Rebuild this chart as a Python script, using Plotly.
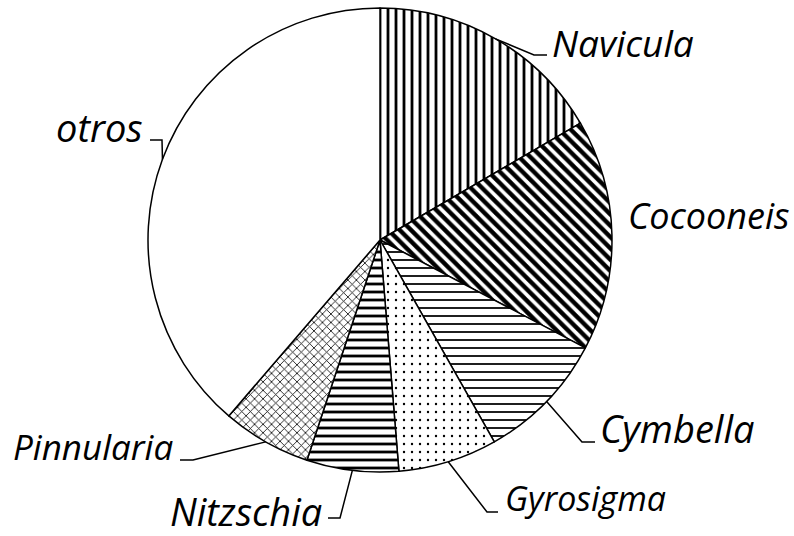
import math
import plotly.graph_objects as go

# ---- data ----
genera = ["Navicula", "Cocooneis", "Cymbella", "Gyrosigma", "Nitzschia", "Pinnularia", "otros"]
percent = [16.6, 16.1, 9.1, 6.9, 6.4, 6.2, 38.7]

# ---- style ----
W, H = 794, 536
CX, CY, R = 380, 240, 232  # pixel centre / radius of the pie
patterns = ["|", "\\", "-", ".", "-", "x", ""]
pat_size = [8, 8, 8, 8, 8, 6, 8]
pat_sol = [0.35, 0.55, 0.22, 0.07, 0.35, 0.25, 0.2]

# label placement: (text x, text y-mid, anchor, font size, leader elbow (x,y), leader end (x,y))
label_style = {
    "Navicula":   dict(x=550, y=42,  xa="left",  size=37, elbow=(534, 55),  end=(547, 55)),
    "Cocooneis":  dict(x=626, y=215, xa="left",  size=36, elbow=None, end=None),
    "Cymbella":   dict(x=598, y=428, xa="left",  size=38, elbow=(582, 442), end=(595, 442)),
    "Gyrosigma":  dict(x=503, y=498, xa="left",  size=34, elbow=(487, 512), end=(498, 512)),
    "Nitzschia":  dict(x=324, y=511, xa="right", size=38, elbow=(340, 518), end=(328, 518)),
    "Pinnularia": dict(x=175, y=446, xa="right", size=35, elbow=(193, 460), end=(180, 460)),
    "otros":      dict(x=145, y=127, xa="right", size=38, elbow=(162, 140), end=(150, 140)),
}

def px(x):
    return x / W

def py(y):
    return 1 - y / H

fig = go.Figure()
fig.add_trace(go.Pie(
    labels=genera,
    values=percent,
    sort=False,
    direction="clockwise",
    rotation=0,
    textinfo="none",
    hoverinfo="label+percent",
    showlegend=False,
    marker=dict(
        colors=["white"] * len(genera),
        line=dict(color="black", width=1.5),
        pattern=dict(shape=patterns, size=pat_size, solidity=pat_sol,
                     fgcolor="black", fgopacity=1, bgcolor="white", fillmode="overlay"),
    ),
    domain=dict(x=[px(CX - R), px(CX + R)], y=[py(CY + R), py(CY - R)]),
))

total = sum(percent)
cum = 0.0
annotations = []
shapes = []
for g, v in zip(genera, percent):
    mid = (cum + v / 2) / total * 2 * math.pi
    cum += v
    sx = CX + R * math.sin(mid)
    sy = CY - R * math.cos(mid)
    st = label_style[g]
    if st["elbow"] is not None:
        ex, ey = st["elbow"]
        fx, fy = st["end"]
        path = f"M {px(sx)},{py(sy)} L {px(ex)},{py(ey)} L {px(fx)},{py(fy)}"
        shapes.append(dict(type="path", path=path, xref="paper", yref="paper",
                           line=dict(color="black", width=1.5)))
    annotations.append(dict(
        text=f"<i>{g}</i>", x=px(st["x"]), y=py(st["y"]), xref="paper", yref="paper",
        xanchor=st["xa"], yanchor="middle", showarrow=False,
        font=dict(family="Open Sans", size=st["size"], color="black"),
    ))

fig.update_layout(
    width=W, height=H,
    margin=dict(l=0, r=0, t=0, b=0),
    paper_bgcolor="white", plot_bgcolor="white",
    annotations=annotations, shapes=shapes,
)
fig.write_html("out.html", config={"displayModeBar": False},
               post_script="document.body.style.margin='0';document.body.style.overflow='hidden';")
